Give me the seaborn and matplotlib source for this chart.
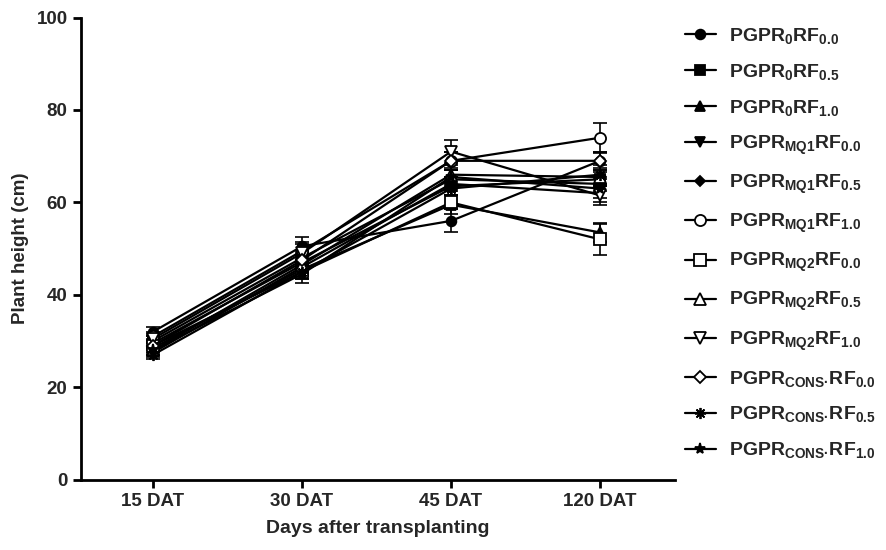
import matplotlib
matplotlib.use("Agg")
import matplotlib.pyplot as plt
import seaborn as sns

# Sampling dates
days = ["15 DAT", "30 DAT", "45 DAT", "120 DAT"]

# Treatment labels (mathtext subscripts)
labels = [
    r"PGPR$_{0}$RF$_{0.0}$",
    r"PGPR$_{0}$RF$_{0.5}$",
    r"PGPR$_{0}$RF$_{1.0}$",
    r"PGPR$_{MQ1}$RF$_{0.0}$",
    r"PGPR$_{MQ1}$RF$_{0.5}$",
    r"PGPR$_{MQ1}$RF$_{1.0}$",
    r"PGPR$_{MQ2}$RF$_{0.0}$",
    r"PGPR$_{MQ2}$RF$_{0.5}$",
    r"PGPR$_{MQ2}$RF$_{1.0}$",
    r"PGPR$_{CONS·}$RF$_{0.0}$",
    r"PGPR$_{CONS·}$RF$_{0.5}$",
    r"PGPR$_{CONS·}$RF$_{1.0}$",
]

# Mean plant height (cm) per treatment
h_p0_rf00 = [32.0, 50.5, 56.0, 69.0]
h_p0_rf05 = [29.5, 47.0, 63.5, 65.0]
h_p0_rf10 = [28.5, 45.5, 59.5, 53.5]
h_mq1_rf00 = [27.5, 46.0, 64.0, 62.0]
h_mq1_rf05 = [30.0, 48.0, 65.0, 64.0]
h_mq1_rf10 = [31.0, 49.5, 69.0, 74.0]
h_mq2_rf00 = [29.0, 45.0, 60.0, 52.0]
h_mq2_rf05 = [28.0, 46.5, 66.0, 65.5]
h_mq2_rf10 = [30.5, 49.0, 71.0, 61.5]
h_cons_rf00 = [29.0, 47.5, 69.0, 69.0]
h_cons_rf05 = [27.0, 45.0, 63.0, 66.0]
h_cons_rf10 = [28.0, 44.5, 65.5, 63.0]

# Standard deviations
e_p0_rf00 = [1.0, 2.0, 2.5, 2.0]
e_p0_rf05 = [1.0, 1.5, 2.0, 1.5]
e_p0_rf10 = [1.0, 1.5, 2.0, 2.0]
e_mq1_rf00 = [1.0, 1.5, 1.5, 2.0]
e_mq1_rf05 = [1.0, 1.5, 2.0, 1.5]
e_mq1_rf10 = [1.0, 2.0, 2.0, 3.2]
e_mq2_rf00 = [1.0, 1.5, 1.5, 3.4]
e_mq2_rf05 = [1.0, 1.5, 2.0, 2.0]
e_mq2_rf10 = [1.0, 2.0, 2.5, 2.0]
e_cons_rf00 = [1.0, 1.5, 2.0, 2.0]
e_cons_rf05 = [1.0, 1.5, 1.5, 2.0]
e_cons_rf10 = [1.0, 2.0, 2.0, 2.0]

heights = [h_p0_rf00, h_p0_rf05, h_p0_rf10, h_mq1_rf00, h_mq1_rf05, h_mq1_rf10,
           h_mq2_rf00, h_mq2_rf05, h_mq2_rf10, h_cons_rf00, h_cons_rf05, h_cons_rf10]
errors = [e_p0_rf00, e_p0_rf05, e_p0_rf10, e_mq1_rf00, e_mq1_rf05, e_mq1_rf10,
          e_mq2_rf00, e_mq2_rf05, e_mq2_rf10, e_cons_rf00, e_cons_rf05, e_cons_rf10]

# Marker shape, size and fill for each treatment
markers = ["o", "s", "^", "v", "D", "o", "s", "^", "v", "D", (8, 2, 0), "*"]
msizes = [7, 7, 7, 7, 5, 8, 8, 8, 8, 6, 8, 8]
filled = [True, True, True, True, True, False, False, False, False, False, True, True]

sns.set_theme(style="ticks")
plt.rcParams["font.family"] = ["Liberation Sans", "DejaVu Sans"]
plt.rcParams["font.weight"] = "bold"
plt.rcParams["mathtext.fontset"] = "custom"
plt.rcParams["mathtext.rm"] = "Liberation Sans:bold"
plt.rcParams["mathtext.it"] = "Liberation Sans:bold"
plt.rcParams["mathtext.bf"] = "Liberation Sans:bold"
plt.rcParams["mathtext.default"] = "rm"

fig = plt.figure(figsize=(8.87, 5.5), dpi=100)
ax = fig.add_axes([0.091, 0.128, 0.670, 0.840])

for lab, h, e, m, ms, f in zip(labels, heights, errors, markers, msizes, filled):
    ax.errorbar(days, h, yerr=e, fmt="none", ecolor="black", elinewidth=1.2,
                capsize=5, capthick=1.2, zorder=2)
    sns.lineplot(x=days, y=h, ax=ax, color="black", linewidth=1.6, marker=m,
                 markersize=ms, markeredgecolor="black", markeredgewidth=1.3,
                 markerfacecolor="black" if f else "white", sort=False,
                 label=lab, zorder=3)

ax.set_xlim(-0.485, 3.503)
ax.set_ylim(0, 100)
ax.set_yticks([0, 20, 40, 60, 80, 100])
ax.set_xlabel("Days after transplanting", fontsize=14, fontweight="bold", labelpad=7)
ax.set_ylabel("Plant height (cm)", fontsize=13.5, fontweight="bold", labelpad=5)
ax.tick_params(axis="both", labelsize=13.5, width=2, length=6, color="black")
for t in ax.get_xticklabels() + ax.get_yticklabels():
    t.set_fontweight("bold")
sns.despine(ax=ax)
for s in ("left", "bottom"):
    ax.spines[s].set_linewidth(2)
    ax.spines[s].set_color("black")

handles, lbls = ax.get_legend_handles_labels()
ax.legend_.remove()
fig.legend(handles, lbls, loc="upper left", bbox_to_anchor=(0.772, 0.953),
           frameon=False, fontsize=14, handlelength=1.6, handletextpad=0.65,
           labelspacing=0.82, borderpad=0, borderaxespad=0)

fig.savefig("out.png", dpi=100)
